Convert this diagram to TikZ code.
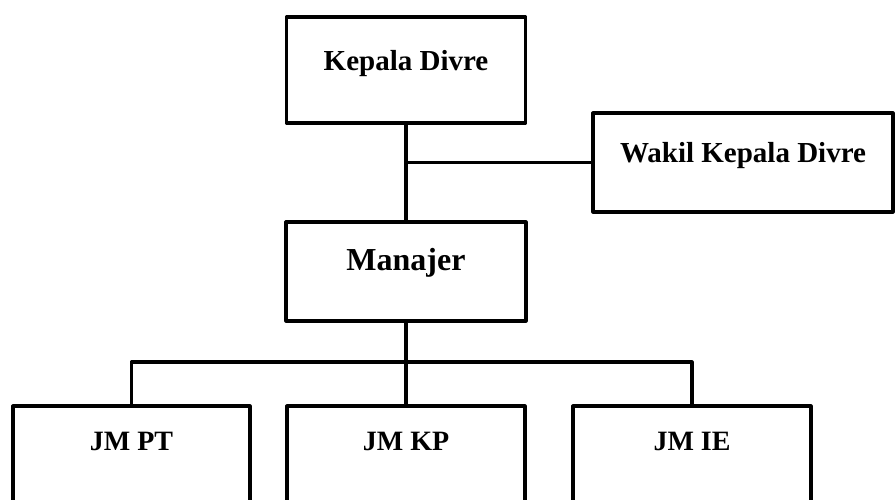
\documentclass[tikz,border=0pt]{standalone}
\usepackage{fontspec}
\setmainfont{Liberation Serif}

\begin{document}
\begin{tikzpicture}[x=0.5pt,y=-0.5pt,line width=1.6pt,line join=round,
    kotak/.style={draw,line width=1.6pt,inner sep=0pt,text height=10pt,
        font=\bfseries\fontsize{14.5}{17}\selectfont}]
\clip (0,0) rectangle (896,499);

    \node[kotak,minimum width=119.5pt,minimum height=53pt,text depth=9.5pt] (kepala) at (406,70) {Kepala Divre};
    \node[kotak,minimum width=150pt,minimum height=49.5pt,text depth=10.4pt] (wakil) at (743,162.5) {Wakil Kepala Divre};
    \node[kotak,minimum width=120pt,minimum height=49.5pt,text depth=10.9pt,
        font=\bfseries\fontsize{16}{19}\selectfont] (manajer) at (406,271.5) {Manajer};

    \node[kotak,minimum width=118.5pt,minimum height=60pt,text depth=25.8pt,
        font=\bfseries\fontsize{14}{17}\selectfont] (jmpt) at (131.5,466) {JM PT};
    \node[kotak,minimum width=119pt,minimum height=60pt,text depth=25.8pt,
        font=\bfseries\fontsize{14}{17}\selectfont] (jmkp) at (406,466) {JM KP};
    \node[kotak,minimum width=119pt,minimum height=60pt,text depth=25.8pt,
        font=\bfseries\fontsize{14}{17}\selectfont] (jmie) at (692,466) {JM IE};

    \coordinate (bus) at (406,362);

    \draw (kepala.south) -- (manajer.north);
    \draw (kepala.south |- wakil.west) -- (wakil.west);
    \draw (manajer.south) -- (jmkp.north);
    \draw (jmpt.north) |- (bus) -| (jmie.north);
\end{tikzpicture}
\end{document}
